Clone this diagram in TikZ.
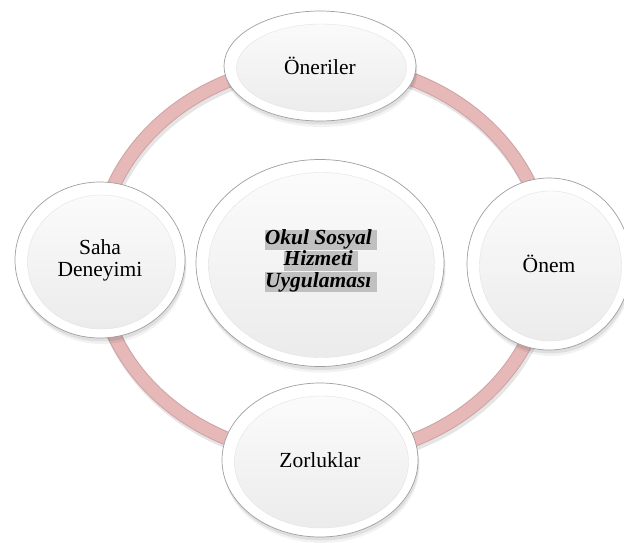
\documentclass[tikz,border=0pt]{standalone}
\usepackage{fontspec}
\setmainfont{Liberation Serif}
\usetikzlibrary{shapes.geometric,calc}
\definecolor{ringpink}{HTML}{E6B8B7}
\definecolor{ringedge}{HTML}{CFA3A3}
\definecolor{hlgray}{HTML}{C0C0C0}
\newcommand{\hlline}[1]{{\setlength{\fboxsep}{0pt}\colorbox{hlgray}{\rule[-5.4pt]{0pt}{20.2pt}#1}}}
\begin{document}
\begin{tikzpicture}[x=1pt,y=-1pt,
  lbl/.style={font=\fontsize{21.5}{22}\selectfont, text=black, align=center},
  bubble/.style={ellipse, draw=gray!75, line width=0.7pt, fill=white, inner sep=0pt,
    preaction={fill=black, opacity=0.05, transform canvas={shift={(1.5pt,-6pt)}}},
    preaction={fill=black, opacity=0.08, transform canvas={shift={(1pt,-3.5pt)}}},
    path picture={
      \path let \p1=(path picture bounding box.north east), \p2=(path picture bounding box.center) in
        [top color=gray!2, bottom color=gray!16, draw=gray!22, line width=0.4pt]
        ($(\p2)+(1.5pt,-2pt)$) ellipse ({\x1-\x2-11pt} and {\y1-\y2-11pt});
    }},
  ]
\useasboundingbox (0,0) rectangle (624,543);
\fill[white] (0,0) rectangle (624,543);
% ring
\draw[black, opacity=0.10, line width=15pt] (323.5,263) ellipse (225 and 197);
\draw[ringedge, line width=14pt] (322,260) ellipse (225 and 197);
\draw[ringpink, line width=12pt] (322,260) ellipse (225 and 197);
% nodes
\node[bubble, minimum width=192pt, minimum height=110pt] (top) at (320,66) {};
\node[lbl] (toptext) at (top.center) {Öneriler};
\node[bubble, minimum width=170pt, minimum height=156pt] (left) at (100,260) {};
\node[lbl] (lefttext) at (left.center) {Saha\\Deneyimi};
\node[bubble, minimum width=164pt, minimum height=172pt] (right) at (549,264) {};
\node[lbl] (righttext) at (right.center) {Önem};
\node[bubble, minimum width=196pt, minimum height=154pt] (bottom) at (320,460) {};
\node[lbl] (bottomtext) at (bottom.center) {Zorluklar};
\node[bubble, minimum width=248pt, minimum height=207pt] (center) at (320,263) {};
\node[lbl, font=\fontsize{21.5}{20.2}\selectfont\bfseries\itshape, inner sep=0pt] (centertext) at (321,261)
  {\hlline{Okul Sosyal~}\\\hlline{Hizmeti~}\\\hlline{Uygulaması~}};
\end{tikzpicture}
\end{document}
